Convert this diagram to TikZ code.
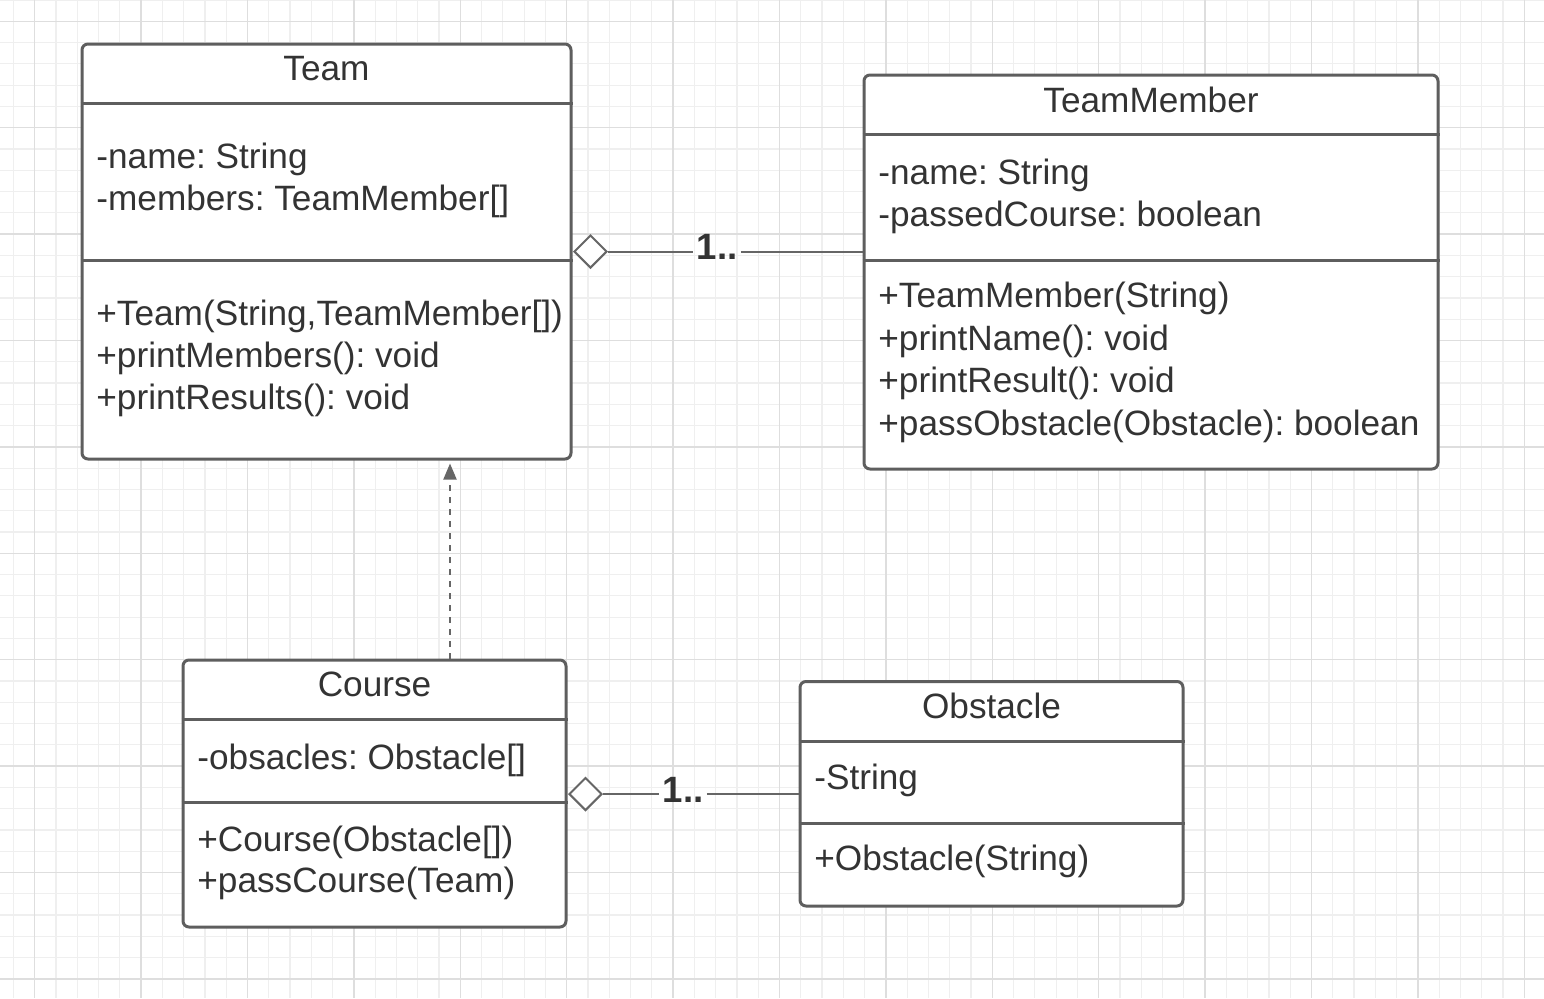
\documentclass[tikz,border=0pt]{standalone}
\usepackage{fontspec}
\setmainfont{Liberation Sans}
\usetikzlibrary{arrows.meta,fit,shapes.geometric}
\definecolor{gridminor}{HTML}{EFEFEF}
\definecolor{gridmajor}{HTML}{DEDEDE}
\definecolor{umlline}{HTML}{5E5E5E}
\definecolor{umltext}{HTML}{333333}
\definecolor{connline}{HTML}{666666}
\frenchspacing

\begin{document}
\begin{tikzpicture}[x=0.5pt,y=-0.5pt,
  classbox/.style={draw=umlline, line width=1.5pt, rounded corners=3pt, fill=white, inner sep=0pt},
  sepline/.style={draw=umlline, line width=1.5pt},
  member/.style={anchor=base west, inner sep=0pt, text=umltext, font=\fontsize{17.6}{21}\selectfont},
  classname/.style={anchor=base, inner sep=0pt, text=umltext, font=\fontsize{17.6}{21}\selectfont},
  mult/.style={anchor=base, inner xsep=1.5pt, inner ysep=0pt, text=umltext, font=\fontsize{18.3}{22}\selectfont\bfseries},
  aggr/.style={diamond, draw=connline, line width=1pt, fill=white, minimum width=16.5pt, minimum height=16.5pt, inner sep=0pt},
  assoc/.style={draw=connline, line width=1pt},
  depend/.style={draw=connline, line width=1pt, dash pattern=on 3pt off 3pt, -{Triangle[width=6.5pt,length=8pt]}}
]
\useasboundingbox (0,0) rectangle (1544,998);

% background grid
\fill[white] (0,0) rectangle (1544,998);
\foreach \k in {0,...,71} \draw[gridminor, line width=0.6pt] ({13.42+21.28*\k},0) -- ({13.42+21.28*\k},998);
\foreach \j in {0,...,46} \draw[gridminor, line width=0.6pt] (0,{0.02+21.28*\j}) -- (1544,{0.02+21.28*\j});
\foreach \m in {0,...,14} \draw[gridmajor, line width=0.75pt] ({34.7+106.4*\m},0) -- ({34.7+106.4*\m},998);
\foreach \m in {0,...,9} \draw[gridmajor, line width=0.75pt] (0,{21.3+106.4*\m}) -- (1544,{21.3+106.4*\m});

% class Team
\node[classbox, fit={(82,44) (571,459)}] (team) {};
\draw[sepline] (team.west |- 0,103) -- (team.east |- 0,103);
\draw[sepline] (team.west |- 0,260) -- (team.east |- 0,260);
\node[classname] (teamT) at (326.5,80.5) {Team};
\node[member] (teamA1) at (96,168.5) {-name: String};
\node[member] (teamA2) at (96,210.5) {-members: TeamMember[]};
\node[member] (teamM1) at (96,325) {+Team(String,TeamMember[])};
\node[member] (teamM2) at (96,367) {+printMembers(): void};
\node[member] (teamM3) at (96,409) {+printResults(): void};

% class TeamMember
\node[classbox, fit={(864,75) (1438,469)}] (member) {};
\draw[sepline] (member.west |- 0,134.5) -- (member.east |- 0,134.5);
\draw[sepline] (member.west |- 0,260) -- (member.east |- 0,260);
\node[classname] (memberT) at (1151,112.8) {TeamMember};
\node[member] (memberA1) at (878,184) {-name: String};
\node[member] (memberA2) at (878,226) {-passedCourse: boolean};
\node[member] (memberM1) at (878,307.5) {+TeamMember(String)};
\node[member] (memberM2) at (878,350) {+printName(): void};
\node[member] (memberM3) at (878,392) {+printResult(): void};
\node[member] (memberM4) at (878,435) {+passObstacle(Obstacle): boolean};

% class Course
\node[classbox, fit={(183,660) (566,927)}] (course) {};
\draw[sepline] (course.west |- 0,719) -- (course.east |- 0,719);
\draw[sepline] (course.west |- 0,802) -- (course.east |- 0,802);
\node[classname] (courseT) at (374.5,696.5) {Course};
\node[member] (courseA1) at (197,769) {-obsacles: Obstacle[]};
\node[member] (courseM1) at (197,851.5) {+Course(Obstacle[])};
\node[member] (courseM2) at (197,892.5) {+passCourse(Team)};

% class Obstacle
\node[classbox, fit={(800,681.5) (1183,906)}] (obstacle) {};
\draw[sepline] (obstacle.west |- 0,741) -- (obstacle.east |- 0,741);
\draw[sepline] (obstacle.west |- 0,823.5) -- (obstacle.east |- 0,823.5);
\node[classname] (obstacleT) at (991.5,718.2) {Obstacle};
\node[member] (obstacleA1) at (814,789) {-String};
\node[member] (obstacleM1) at (814,870) {+Obstacle(String)};

% aggregation Team <>-- TeamMember
\node[aggr] (agg1) at (590.5,251.5) {};
\node[mult] (mult1) at (717,259) {1..};
\draw[assoc] (agg1.east) -- (agg1.east -| mult1.west);
\draw[assoc] (agg1.east -| mult1.east) -- (agg1.east -| member.west);

% aggregation Course <>-- Obstacle
\node[aggr] (agg2) at (585.5,794) {};
\node[mult] (mult2) at (683,802.7) {1..};
\draw[assoc] (agg2.east) -- (agg2.east -| mult2.west);
\draw[assoc] (agg2.east -| mult2.east) -- (agg2.east -| obstacle.west);

% dependency Course ..> Team
\coordinate (depx) at (450,0);
\draw[depend, shorten >=1.5pt] (course.north -| depx) -- (team.south -| depx);
\end{tikzpicture}
\end{document}
